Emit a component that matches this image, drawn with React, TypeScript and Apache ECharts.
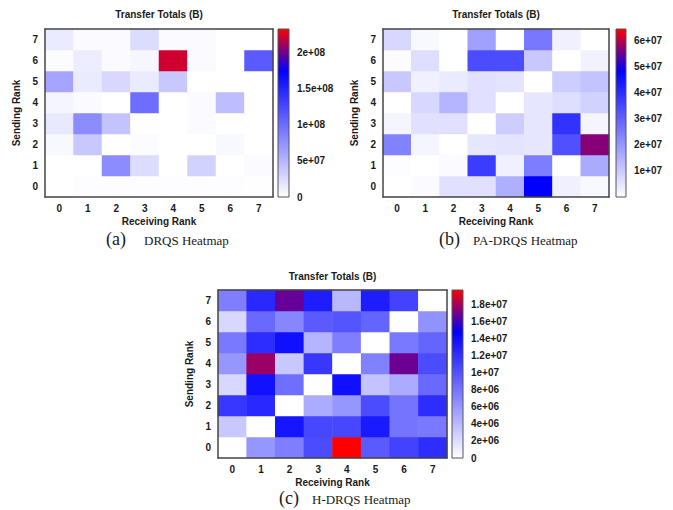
import React, { useEffect, useRef } from 'react';
import * as echarts from 'echarts';

// Categories: rank indices (both axes)
const ranks = ['0', '1', '2', '3', '4', '5', '6', '7'];

// Each row = sending rank 0..7, columns = receiving rank 0..7 (bytes)
const drqsRows = [
  [0, 1.5e6, 1.5e6, 1.5e6, 1.5e6, 1.5e6, 1.5e6, 1e6],
  [0, 0, 7.9e7, 2.4e7, 0, 3.1e7, 0, 3.4e6],
  [5e6, 3.8e7, 0, 2e6, 0, 0, 5e6, 0],
  [1.6e7, 7.9e7, 4.1e7, 0, 0, 3e6, 0, 0],
  [7e6, 3.4e6, 0, 1.0e8, 0, 3e6, 4.5e7, 0],
  [6.2e7, 1.4e7, 2.7e7, 1.4e7, 3.8e7, 0, 0, 0],
  [2e6, 1.2e7, 3.4e6, 6e6, 2.22e8, 3.4e6, 0, 1.13e8],
  [1.37e7, 3.4e6, 3.4e6, 2.4e7, 3.4e6, 3.4e6, 0, 0],
];

const paDrqsRows = [
  [0, 1e6, 5.7e6, 5.7e6, 1.52e7, 4.85e7, 2.9e6, 1.3e6],
  [0.4e6, 0, 1e6, 3.7e7, 2.9e6, 2.47e7, 0, 1.62e7],
  [2.38e7, 1.9e6, 0, 4.8e6, 5.1e6, 4.8e6, 3.33e7, 5.7e7],
  [1.9e6, 5.7e6, 5.7e6, 0, 9.5e6, 4.8e6, 3.9e7, 1.9e6],
  [0, 7.6e6, 1.43e7, 5.7e6, 0, 4.8e6, 6.3e6, 8.6e6],
  [1.05e7, 2.9e6, 3.8e6, 5.7e6, 5.1e6, 0, 9.5e6, 1.14e7],
  [0.6e6, 6.3e6, 0, 3.4e7, 3.4e7, 1.05e7, 0, 2.5e6],
  [7.6e6, 1.3e6, 0, 1.8e7, 0, 2.57e7, 2.9e6, 0],
];

const hDrqsRows = [
  [0, 6.1e6, 7.5e6, 1.04e7, 1.975e7, 9.6e6, 1.1e7, 1.22e7],
  [3.2e6, 0, 1.36e7, 1.07e7, 1.07e7, 1.33e7, 8.1e6, 7.8e6],
  [1.16e7, 1.25e7, 0, 4.9e6, 6.1e6, 1.04e7, 8.1e6, 1.22e7],
  [2.3e6, 1.38e7, 8.4e6, 0, 1.39e7, 3.5e6, 4.9e6, 8.7e6],
  [6.1e6, 1.78e7, 3.2e6, 1.16e7, 0, 7.3e6, 1.69e7, 1.04e7],
  [7.8e6, 1.22e7, 1.39e7, 4.35e6, 7.5e6, 0, 7.8e6, 9e6],
  [2.3e6, 8.7e6, 7e6, 9.6e6, 9.9e6, 9e6, 0, 6.4e6],
  [7.5e6, 1.25e7, 1.68e7, 1.31e7, 4.1e6, 1.31e7, 1.1e7, 0],
];

// Colour-bar ranges and tick steps
const drqsRange = [0, 2.33e8];
const drqsStep = 5e7;
const paDrqsRange = [0, 6.46e7];
const paDrqsStep = 1e7;
const hDrqsRange = [0, 1.975e7];
const hDrqsStep = 2e6;

const titleText = 'Transfer Totals (B)';
const xName = 'Receiving Rank';
const yName = 'Sending Rank';
const captions = [
  { letter: '(a)', text: 'DRQS Heatmap' },
  { letter: '(b)', text: 'PA-DRQS Heatmap' },
  { letter: '(c)', text: 'H-DRQS Heatmap' },
];

const palette = ['#ffffff', '#aaaaff', '#5555ff', '#0000ff', '#ff0000'];

const SANS = '"Liberation Sans", Arial, Helvetica, sans-serif';
const SERIF = '"Liberation Serif", "Times New Roman", serif';
const INK = '#1a1a1a';

function toCells(rows: number[][]) {
  const out: number[][] = [];
  rows.forEach((row, s) => row.forEach((v, r) => out.push([r, s, v])));
  return out;
}

function sci(v: number) {
  if (v === 0) return '0';
  const e = Math.floor(Math.log10(v) + 1e-9);
  const m = parseFloat((v / Math.pow(10, e)).toPrecision(4));
  return `${m}e+${String(e).padStart(2, '0')}`;
}

const panels = [
  {
    rows: drqsRows, range: drqsRange, step: drqsStep, showMin: true,
    grid: { left: 45, top: 29, width: 228, height: 168 },
    bar: { left: 278, top: 29, width: 11, height: 168 },
    titleY: 14, capY: 239, capLetterX: 106, capTextX: 144,
  },
  {
    rows: paDrqsRows, range: paDrqsRange, step: paDrqsStep, showMin: false,
    grid: { left: 383, top: 29, width: 226, height: 168 },
    bar: { left: 616, top: 29, width: 10, height: 168 },
    titleY: 14, capY: 239, capLetterX: 439, capTextX: 473,
  },
  {
    rows: hDrqsRows, range: hDrqsRange, step: hDrqsStep, showMin: true,
    grid: { left: 218, top: 290, width: 229, height: 168 },
    bar: { left: 452, top: 290, width: 11, height: 168 },
    titleY: 276, capY: 498, capLetterX: 279, capTextX: 312,
  },
];

export default function App() {
  const ref = useRef<HTMLDivElement>(null);

  useEffect(() => {
    document.body.style.margin = '0';
    if (!ref.current) return;
    const chart = echarts.init(ref.current, null, { renderer: 'svg' });

    const grids: any[] = [];
    const xAxes: any[] = [];
    const yAxes: any[] = [];
    const series: any[] = [];
    const visualMaps: any[] = [];
    const graphics: any[] = [];

    const frameLine = { show: true, lineStyle: { color: '#444', width: 1.5 } };
    const lbl = { fontFamily: SANS, fontWeight: 'bold', fontSize: 10, color: INK };

    panels.forEach((p, i) => {
      const g = 2 * i;
      grids.push({ ...p.grid });
      grids.push({
        ...p.bar,
        show: true,
        borderColor: '#555',
        borderWidth: 1,
        backgroundColor: {
          type: 'linear', x: 0, y: 0, x2: 0, y2: 1,
          colorStops: [
            { offset: 0, color: palette[4] },
            { offset: 0.25, color: palette[3] },
            { offset: 0.5, color: palette[2] },
            { offset: 0.75, color: palette[1] },
            { offset: 1, color: palette[0] },
          ],
        },
      });

      xAxes.push({
        type: 'category', data: ranks, gridIndex: g, position: 'bottom', z: 5,
        axisLine: frameLine, axisTick: { show: false },
        axisLabel: { ...lbl, margin: 6 },
        name: xName, nameLocation: 'middle', nameGap: 19,
        nameTextStyle: { ...lbl },
        splitLine: { show: false },
      });
      xAxes.push({
        type: 'category', data: ranks, gridIndex: g, position: 'top', z: 5,
        axisLine: frameLine, axisTick: { show: false }, axisLabel: { show: false },
        splitLine: { show: false },
      });
      xAxes.push({ type: 'value', gridIndex: g + 1, show: false });

      yAxes.push({
        type: 'category', data: ranks, gridIndex: g, position: 'left', z: 5,
        axisLine: frameLine, axisTick: { show: false },
        axisLabel: { ...lbl, margin: 7 },
        name: yName, nameLocation: 'middle', nameGap: 24,
        nameTextStyle: { ...lbl },
        splitLine: { show: false },
      });
      yAxes.push({
        type: 'category', data: ranks, gridIndex: g, position: 'right', z: 5,
        axisLine: frameLine, axisTick: { show: false }, axisLabel: { show: false },
        splitLine: { show: false },
      });
      yAxes.push({
        type: 'value', gridIndex: g + 1, position: 'right',
        min: p.range[0], max: p.range[1], interval: p.step,
        axisLine: { show: false }, axisTick: { show: false }, splitLine: { show: false },
        axisLabel: {
          ...lbl, margin: 8, formatter: (v: number) => sci(v),
          showMaxLabel: false, showMinLabel: p.showMin,
        },
      });

      series.push({
        type: 'heatmap',
        xAxisIndex: 3 * i,
        yAxisIndex: 3 * i,
        data: toCells(p.rows),
        itemStyle: { borderWidth: 0 },
        emphasis: { disabled: true },
        z: 2,
      });

      visualMaps.push({
        type: 'continuous', show: false, seriesIndex: i, dimension: 2,
        min: p.range[0], max: p.range[1],
        inRange: { color: palette },
      });

      const cx = p.grid.left + p.grid.width / 2;
      graphics.push({
        type: 'text', x: cx, y: p.titleY,
        style: {
          text: titleText, fontFamily: SANS, fontWeight: 'bold', fontSize: 10,
          fill: INK, align: 'center', verticalAlign: 'middle',
        },
      });
      graphics.push({
        type: 'text', x: p.capLetterX, y: p.capY,
        style: {
          text: captions[i].letter, fontFamily: SERIF, fontSize: 18,
          fill: INK, align: 'left', verticalAlign: 'middle',
        },
      });
      graphics.push({
        type: 'text', x: p.capTextX, y: p.capY + 1,
        style: {
          text: captions[i].text, fontFamily: SERIF, fontSize: 13,
          fill: INK, align: 'left', verticalAlign: 'middle',
        },
      });
    });

    chart.setOption({
      animation: false,
      backgroundColor: '#ffffff',
      grid: grids,
      xAxis: xAxes,
      yAxis: yAxes,
      visualMap: visualMaps,
      series,
      graphic: graphics,
    });

    return () => chart.dispose();
  }, []);

  return <div ref={ref} style={{ width: 673, height: 510 }} />;
}
